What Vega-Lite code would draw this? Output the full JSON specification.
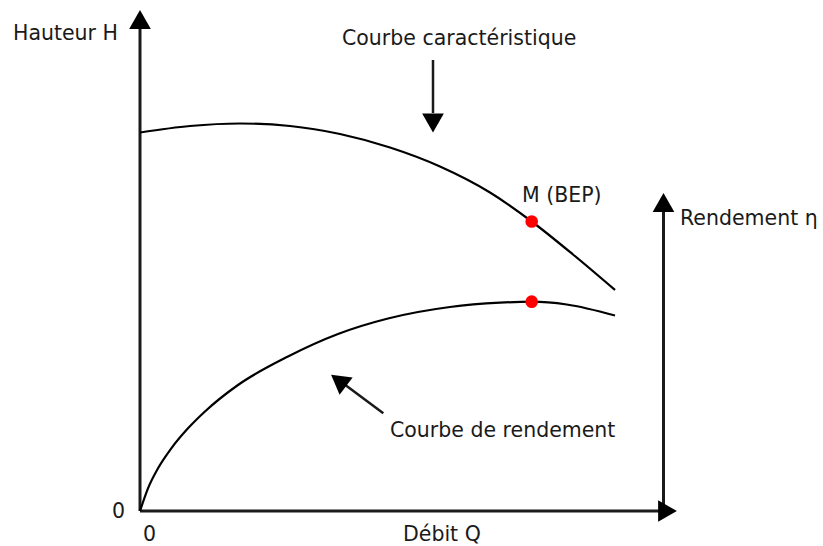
{
  "$schema": "https://vega.github.io/schema/vega-lite/v6.json",
  "width": 823,
  "height": 546,
  "autosize": {"type": "fit", "contains": "padding"},
  "padding": 0,
  "background": "white",
  "config": {"view": {"stroke": null}},
  "datasets": {
    "axes": [
      {"Q": 0, "H": 0, "Q2": 0, "H2": 483},
      {"Q": 0, "H": 0, "Q2": 521, "H2": 0},
      {"Q": 523.5, "H": 0, "Q2": 523.5, "H2": 301}
    ],
    "pointers": [
      {"Q": 293, "H": 451, "Q2": 293, "H2": 398},
      {"Q": 243.3, "H": 97.7, "Q2": 204, "H2": 127}
    ],
    "heads": [
      {"Q": 0, "H": 491.5, "direction": 0},
      {"Q": 523.5, "H": 308.5, "direction": 0},
      {"Q": 527.5, "H": 0, "direction": 90},
      {"Q": 293, "H": 388, "direction": 180},
      {"Q": 198.6, "H": 130.5, "direction": 307}
    ],
    "curves": [
      {"curve": "caracteristique", "Q": 0, "H": 378.5},
      {"curve": "caracteristique", "Q": 50, "H": 385},
      {"curve": "caracteristique", "Q": 100, "H": 387.5},
      {"curve": "caracteristique", "Q": 150, "H": 385},
      {"curve": "caracteristique", "Q": 200, "H": 377},
      {"curve": "caracteristique", "Q": 250, "H": 363.5},
      {"curve": "caracteristique", "Q": 300, "H": 344.5},
      {"curve": "caracteristique", "Q": 350, "H": 318.5},
      {"curve": "caracteristique", "Q": 391.7, "H": 289.5},
      {"curve": "caracteristique", "Q": 433, "H": 256.5},
      {"curve": "caracteristique", "Q": 475, "H": 221},
      {"curve": "rendement", "Q": 0, "H": 0},
      {"curve": "rendement", "Q": 8, "H": 22.7},
      {"curve": "rendement", "Q": 18, "H": 42.7},
      {"curve": "rendement", "Q": 31.3, "H": 62.7},
      {"curve": "rendement", "Q": 48, "H": 82.7},
      {"curve": "rendement", "Q": 64.7, "H": 99.3},
      {"curve": "rendement", "Q": 98, "H": 126},
      {"curve": "rendement", "Q": 148, "H": 154.5},
      {"curve": "rendement", "Q": 198, "H": 177},
      {"curve": "rendement", "Q": 248, "H": 192.5},
      {"curve": "rendement", "Q": 310, "H": 204},
      {"curve": "rendement", "Q": 360, "H": 208.3},
      {"curve": "rendement", "Q": 391.7, "H": 209.3},
      {"curve": "rendement", "Q": 426.7, "H": 206.5},
      {"curve": "rendement", "Q": 475, "H": 195.5}
    ],
    "bep": [
      {"Q": 391.7, "H": 289.5},
      {"Q": 391.7, "H": 209.3}
    ],
    "labels": [
      {"label": "Hauteur H", "Q": -127, "H": 471},
      {"label": "Courbe caractéristique", "Q": 202, "H": 466},
      {"label": "M (BEP)", "Q": 382, "H": 309},
      {"label": "Rendement η", "Q": 540, "H": 286},
      {"label": "Courbe de rendement", "Q": 250, "H": 74},
      {"label": "Débit Q", "Q": 263, "H": -30},
      {"label": "0", "Q": -28, "H": -7},
      {"label": "0", "Q": 3, "H": -30}
    ]
  },
  "layer": [
    {
      "data": {"name": "axes"},
      "mark": {"type": "rule", "stroke": "#1a1a1a", "strokeWidth": 3},
      "encoding": {
        "x": {"field": "Q", "type": "quantitative", "scale": {"domain": [-140, 683], "nice": false, "zero": false}, "axis": null},
        "y": {"field": "H", "type": "quantitative", "scale": {"domain": [-35, 511], "nice": false, "zero": false}, "axis": null},
        "x2": {"field": "Q2"},
        "y2": {"field": "H2"}
      }
    },
    {
      "data": {"name": "pointers"},
      "mark": {"type": "rule", "stroke": "#1a1a1a", "strokeWidth": 2.5},
      "encoding": {
        "x": {"field": "Q", "type": "quantitative", "axis": null},
        "y": {"field": "H", "type": "quantitative", "axis": null},
        "x2": {"field": "Q2"},
        "y2": {"field": "H2"}
      }
    },
    {
      "data": {"name": "heads"},
      "mark": {"type": "point", "shape": "triangle-up", "filled": true, "fill": "#000000", "strokeWidth": 0, "opacity": 1, "size": 470},
      "encoding": {
        "x": {"field": "Q", "type": "quantitative", "axis": null},
        "y": {"field": "H", "type": "quantitative", "axis": null},
        "angle": {"field": "direction", "type": "quantitative", "scale": null}
      }
    },
    {
      "data": {"name": "curves"},
      "mark": {"type": "line", "stroke": "#000000", "strokeWidth": 2.2, "interpolate": "monotone"},
      "encoding": {
        "x": {"field": "Q", "type": "quantitative", "axis": null},
        "y": {"field": "H", "type": "quantitative", "axis": null},
        "detail": {"field": "curve", "type": "nominal"}
      }
    },
    {
      "data": {"name": "bep"},
      "mark": {"type": "circle", "fill": "#ff0000", "opacity": 1, "size": 160},
      "encoding": {
        "x": {"field": "Q", "type": "quantitative", "axis": null},
        "y": {"field": "H", "type": "quantitative", "axis": null}
      }
    },
    {
      "data": {"name": "labels"},
      "mark": {"type": "text", "align": "left", "baseline": "alphabetic", "font": "DejaVu Sans", "fontSize": 20.5, "fill": "#1a1a1a"},
      "encoding": {
        "x": {"field": "Q", "type": "quantitative", "axis": null},
        "y": {"field": "H", "type": "quantitative", "axis": null},
        "text": {"field": "label"}
      }
    }
  ]
}
